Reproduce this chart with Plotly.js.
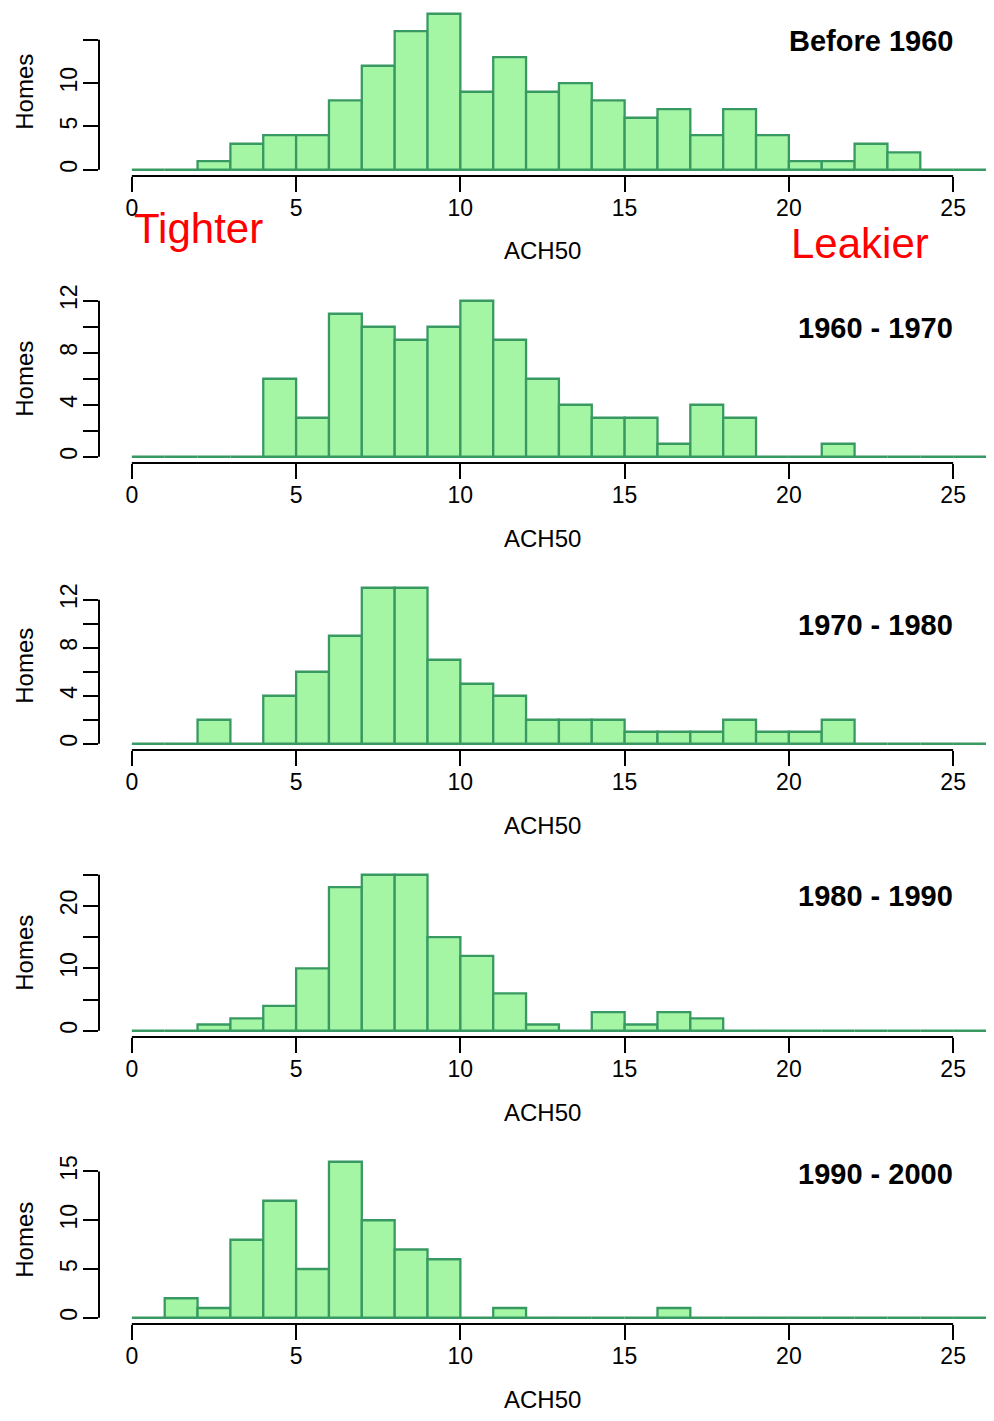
<!DOCTYPE html>
<html>
<head>
<meta charset="utf-8">
<script src="https://cdn.plot.ly/plotly-3.0.1.min.js"></script>
<style>
  html, body { margin: 0; padding: 0; background: #ffffff; }
  #chart { width: 994px; height: 1421px; }
</style>
</head>
<body>
<div id="chart"></div>
<script>
// ACH50 histogram bins: [0,1), [1,2), ... [25,26)
const binStarts = [0,1,2,3,4,5,6,7,8,9,10,11,12,13,14,15,16,17,18,19,20,21,22,23,24,25];

// Home counts per bin for each construction era
const countsBefore1960 = [0,0,1,3,4,4,8,12,16,18,9,13,9,10,8,6,7,4,7,4,1,1,3,2,0,0];
const counts1960to1970 = [0,0,0,0,6,3,11,10,9,10,12,9,6,4,3,3,1,4,3,0,0,1,0,0,0,0];
const counts1970to1980 = [0,0,2,0,4,6,9,13,13,7,5,4,2,2,2,1,1,1,2,1,1,2,0,0,0,0];
const counts1980to1990 = [0,0,1,2,4,10,23,25,25,15,12,6,1,0,3,1,3,2,0,0,0,0,0,0,0,0];
const counts1990to2000 = [0,2,1,8,12,5,16,10,7,6,0,1,0,0,0,0,1,0,0,0,0,0,0,0,0,0];

const eraLabels = ["Before 1960", "1960 - 1970", "1970 - 1980", "1980 - 1990", "1990 - 2000"];
const eraCounts = [countsBefore1960, counts1960to1970, counts1970to1980, counts1980to1990, counts1990to2000];

// y tick positions and which of them carry a label
const yTickVals = [
  [0,5,10,15],
  [0,2,4,6,8,10,12],
  [0,2,4,6,8,10,12],
  [0,5,10,15,20,25],
  [0,5,10,15]
];
const yTickText = [
  ["0","5","10",""],
  ["0","","4","","8","","12"],
  ["0","","4","","8","","12"],
  ["0","","10","","20",""],
  ["0","5","10","15"]
];
const xTickVals = [0,5,10,15,20,25];

const W = 994, H = 1421;
const fx = p => p / W;
const fy = p => 1 - p / H;

const FONT = "Liberation Sans, Arial, Helvetica, sans-serif";
const FILL = "#a4f5a4";
const EDGE = "#389a62";

const panelStep = 287;
const plotLeft = 99, plotRight = 986;
const panelTop0 = 7.5, panelBottom0 = 176;
const titleY = [41, 328, 625, 896, 1174];

const data = [];
const layout = {
  width: W, height: H,
  margin: {l: 0, r: 0, t: 0, b: 0},
  paper_bgcolor: "#ffffff",
  plot_bgcolor: "#ffffff",
  showlegend: false,
  bargap: 0,
  font: {family: FONT, color: "#000000"},
  shapes: [],
  annotations: []
};

eraCounts.forEach((counts, k) => {
  const sfx = k === 0 ? "" : String(k + 1);
  const xa = "x" + sfx, ya = "y" + sfx;
  const top = panelTop0 + panelStep * k;
  const bottom = panelBottom0 + panelStep * k;
  const ymax = Math.max(...counts);

  data.push({
    type: "bar",
    x: binStarts.map(b => b + 0.5),
    y: counts,
    width: 1,
    xaxis: xa, yaxis: ya,
    marker: {color: FILL, line: {color: EDGE, width: 2.3}},
    hoverinfo: "x+y"
  });

  layout["xaxis" + sfx] = {
    domain: [fx(plotLeft), fx(plotRight)],
    anchor: ya,
    range: [-1, 26],
    showgrid: false, zeroline: false, showline: false,
    ticks: "outside", ticklen: 15, tickwidth: 2, tickcolor: "#000",
    tickvals: xTickVals,
    ticktext: xTickVals.map(String),
    tickfont: {family: FONT, size: 23, color: "#000"},
    ticklabelstandoff: -4,
    automargin: false,
    fixedrange: true
  };
  layout["yaxis" + sfx] = {
    domain: [fy(bottom), fy(top)],
    anchor: xa,
    range: [-0.04 * ymax, 1.04 * ymax],
    showgrid: false, zeroline: false, showline: false,
    ticks: "outside", ticklen: 15, tickwidth: 2, tickcolor: "#000",
    tickvals: yTickVals[k],
    ticktext: yTickText[k],
    tickangle: -90,
    tickfont: {family: FONT, size: 23, color: "#000"},
    ticklabelstandoff: -3,
    automargin: false,
    fixedrange: true
  };

  // axis lines spanning only the tick range
  const yv = yTickVals[k];
  layout.shapes.push({
    type: "line", xref: xa + " domain", yref: ya,
    x0: 0, x1: 0, y0: yv[0], y1: yv[yv.length - 1],
    line: {color: "#000", width: 2}
  });
  layout.shapes.push({
    type: "line", xref: xa, yref: ya + " domain",
    x0: xTickVals[0], x1: xTickVals[xTickVals.length - 1], y0: 0, y1: 0,
    line: {color: "#000", width: 2}
  });

  layout.annotations.push({
    xref: "paper", yref: "paper",
    x: fx(25), y: fy((top + bottom) / 2),
    text: "Homes", textangle: -90, showarrow: false,
    xanchor: "center", yanchor: "middle",
    font: {family: FONT, size: 24, color: "#000"}
  });
  layout.annotations.push({
    xref: "paper", yref: "paper",
    x: fx((plotLeft + plotRight) / 2), y: fy(251 + panelStep * k),
    text: "ACH50", showarrow: false,
    xanchor: "center", yanchor: "middle",
    font: {family: FONT, size: 24, color: "#000"}
  });
  layout.annotations.push({
    xref: "paper", yref: "paper",
    x: fx(955), y: fy(titleY[k]),
    text: "<b>" + eraLabels[k] + "</b>", showarrow: false,
    xanchor: "right", yanchor: "middle",
    font: {family: FONT, size: 29, color: "#000"}
  });
});

// direction hints under the first panel
layout.annotations.push({
  xref: "paper", yref: "paper",
  x: fx(132), y: fy(228),
  text: "Tighter", showarrow: false,
  xanchor: "left", yanchor: "middle",
  font: {family: FONT, size: 42, color: "#ff0000"}
});
layout.annotations.push({
  xref: "paper", yref: "paper",
  x: fx(789), y: fy(243),
  text: "Leakier", showarrow: false,
  xanchor: "left", yanchor: "middle",
  font: {family: FONT, size: 42, color: "#ff0000"}
});

Plotly.newPlot("chart", data, layout, {displayModeBar: false, staticPlot: true});
</script>
</body>
</html>
